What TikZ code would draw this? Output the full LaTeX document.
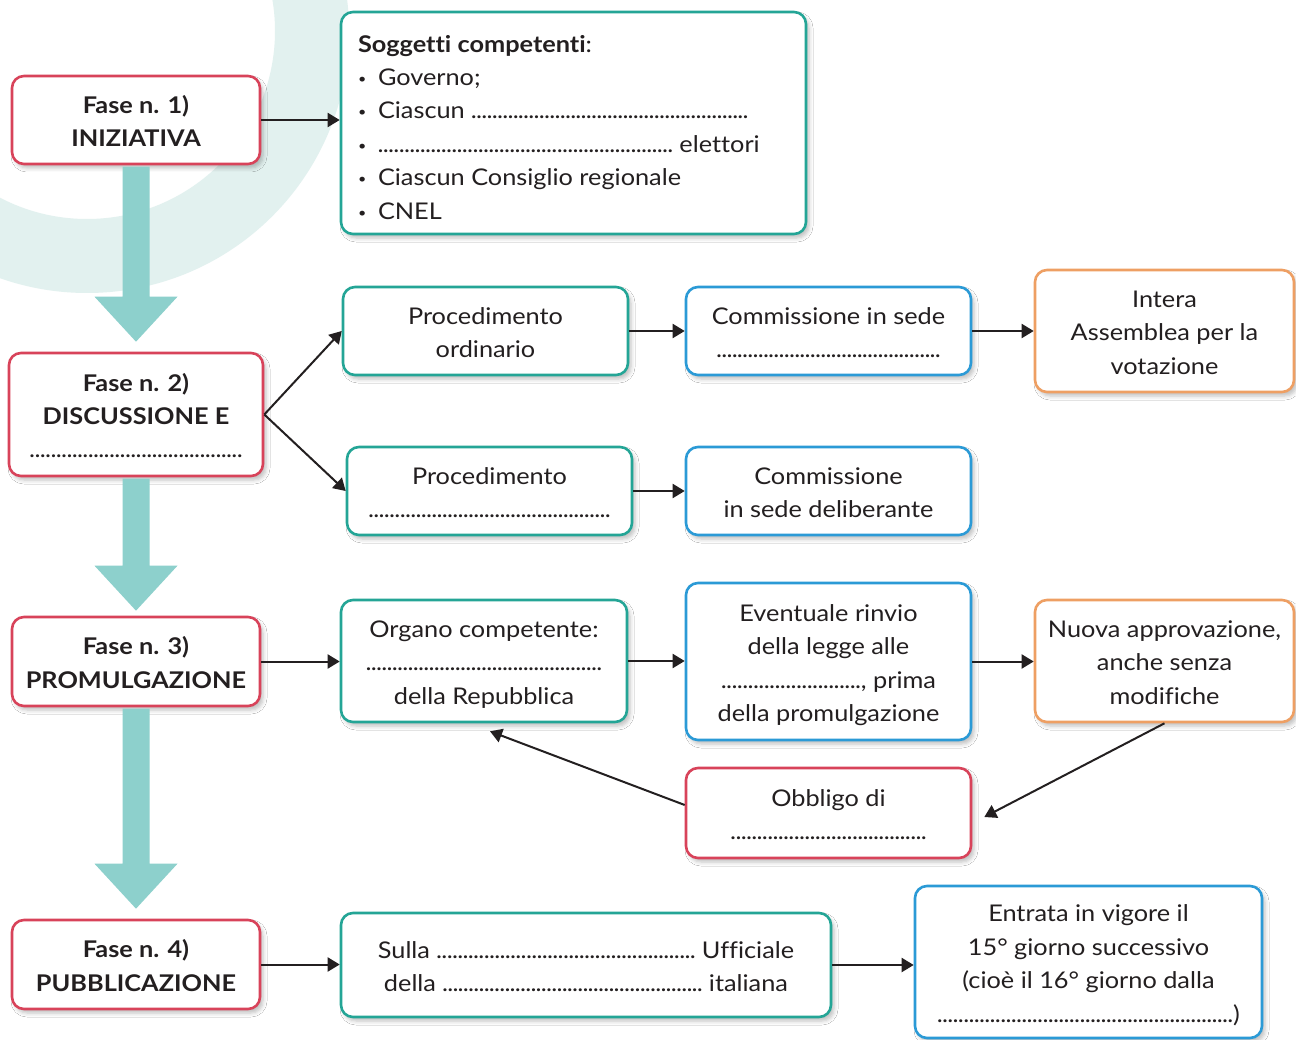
\documentclass[tikz,border=0pt]{standalone}
\usepackage{fontspec}
\setmainfont{Lato}[FakeStretch=1.1, Ligatures=NoCommon]
\usetikzlibrary{arrows.meta,shadows.blur,calc}

\definecolor{ink}{HTML}{231F20}
\definecolor{cred}{HTML}{D8435A}
\definecolor{cteal}{HTML}{24A596}
\definecolor{cblue}{HTML}{2B9AD6}
\definecolor{corange}{HTML}{EE9F63}
\definecolor{phaseflow}{HTML}{8DD0CC}
\definecolor{ringtint}{HTML}{E2F1EF}

% dotted blank of a given width (in pt)
\newcommand\blank[1]{\makebox[#1pt]{\xleaders\hbox to 5.2pt{\hss.\hss}\hfill}}
% small bullet for list items
\newcommand\itm{\makebox[20pt][l]{\raisebox{2pt}{\fontsize{13}{13}\selectfont\textbullet}}}
% centred lines of a card, set slightly low for optical centring
\newcommand\cardtext[1]{\raisebox{-3.3pt}[\height][\depth]{\begin{tabular}{@{}c@{}}#1\end{tabular}}}

\tikzset{
  card/.style={rectangle, rounded corners=12pt, line width=2.6pt, fill=white,
    inner sep=0pt, text=ink,
    font=\fontsize{23}{33.4}\selectfont,
    blur shadow={shadow xshift=3pt, shadow yshift=-4pt,
      shadow blur radius=4pt, shadow opacity=25}},
  redcard/.style={card, draw=cred},
  tealcard/.style={card, draw=cteal},
  bluecard/.style={card, draw=cblue},
  orangecard/.style={card, draw=corange},
  phasecard/.style={redcard, font=\fontsize{23}{33.4}\selectfont\bfseries},
  link/.style={line width=2pt, draw=ink, -{Triangle[length=12pt,width=14pt]}},
}

% wide teal arrow between two phase boxes (#3: gap above the lower box)
\newcommand\phasearrow[3]{%
  \fill[phaseflow] let \p1=(#1.south), \p2=(#2.north) in
    (\x1-13.5pt,\y1-1.3pt) -- (\x1+13.5pt,\y1-1.3pt) -- (\x1+13.5pt,\y2+#3pt+45pt)
    -- (\x1+41.5pt,\y2+#3pt+45pt) -- (\x1,\y2+#3pt)
    -- (\x1-41.5pt,\y2+#3pt+45pt) -- (\x1-13.5pt,\y2+#3pt+45pt) -- cycle;}

\begin{document}
\begin{tikzpicture}[x=1pt,y=-1pt]
  \useasboundingbox (0,0) rectangle (1296,1040);
  \begin{scope}
    \clip (0,0) rectangle (1296,1040);
    \fill[white] (0,0) rectangle (1296,1040);
    % decorative ring behind the first phase
    \fill[ringtint, even odd rule] (87,31) circle (262pt) (87,31) circle (188pt);
  \end{scope}

  % phase boxes
  \node[phasecard, minimum width=248pt, minimum height=88pt] (f1) at (136,120) {\cardtext{Fase n. 1)\\INIZIATIVA}};
  \node[phasecard, minimum width=254pt, minimum height=123pt] (f2) at (136,414.5) {\cardtext{Fase n. 2)\\DISCUSSIONE E\\{\mdseries\blank{213}}}};
  \node[phasecard, minimum width=248pt, minimum height=89pt] (f3) at (136,661.5) {\cardtext{Fase n. 3)\\PROMULGAZIONE}};
  \node[phasecard, minimum width=248pt, minimum height=89pt] (f4) at (136,964.5) {\cardtext{Fase n. 4)\\PUBBLICAZIONE}};

  % wide arrows between phases
  \phasearrow{f1}{f2}{10}
  \phasearrow{f2}{f3}{5}
  \phasearrow{f3}{f4}{10}

  % phase 1
  \node[tealcard, minimum width=465pt, minimum height=222pt] (sog) at (573.5,123)
    {\raisebox{-6pt}[\height][\depth]{\begin{tabular}{@{}p{431pt}@{}}
      \textbf{Soggetti competenti}:\\
      \itm Governo;\\
      \itm Ciascun \blank{277}\\
      \itm\blank{295} elettori\\
      \itm Ciascun Consiglio regionale\\
      \itm CNEL
    \end{tabular}}};

  % phase 2
  \node[tealcard, minimum width=285pt, minimum height=88pt] (po) at (485.5,331) {\cardtext{Procedimento\\ordinario}};
  \node[bluecard, minimum width=285pt, minimum height=88pt] (cs) at (828.5,331) {\cardtext{Commissione in sede\\\blank{224}}};
  \node[orangecard, minimum width=259pt, minimum height=122pt] (ia) at (1164.5,331) {\cardtext{Intera\\Assemblea per la\\votazione}};
  \node[tealcard, minimum width=285pt, minimum height=88pt] (pd) at (489.5,491) {\cardtext{Procedimento\\\blank{242}}};
  \node[bluecard, minimum width=285pt, minimum height=88pt] (cd) at (828.5,491) {\cardtext{Commissione\\in sede deliberante}};

  % phase 3
  \node[tealcard, minimum width=286pt, minimum height=122pt] (oc) at (484,661) {\cardtext{Organo competente:\\\blank{236}\\della Repubblica}};
  \node[bluecard, minimum width=285pt, minimum height=157pt] (er) at (828.5,661.5) {\cardtext{Eventuale rinvio\\della legge alle\\\blank{140}, prima\\della promulgazione}};
  \node[orangecard, minimum width=259pt, minimum height=122pt] (na) at (1164.5,661) {\cardtext{Nuova approvazione,\\anche senza\\modifiche}};
  \node[redcard, minimum width=285pt, minimum height=90pt] (ob) at (828.5,813) {\cardtext{Obbligo di\\\blank{196}}};

  % phase 4
  \node[tealcard, minimum width=490pt, minimum height=104pt] (su) at (586,965) {\cardtext{Sulla \blank{259} Ufficiale\\della \blank{260} italiana}};
  \node[bluecard, minimum width=347pt, minimum height=152pt] (en) at (1088.5,962) {\raisebox{-3.5pt}{\cardtext{Entrata in vigore il\\15° giorno successivo\\(cioè il 16° giorno dalla\\\blank{296})}}};

  % connectors
  \draw[link] (f1.east) -- (sog.west |- f1.east);
  \draw[link] (f2.east) -- (po.west);
  \draw[link] (f2.east) -- (pd.west);
  \draw[link] (po.east) -- (cs.west);
  \draw[link] (cs.east) -- (ia.west |- cs.east);
  \draw[link] (pd.east) -- (cd.west);
  \draw[link] (f3.east) -- (oc.west |- f3.east);
  \draw[link] (oc.east) -- (er.west |- oc.east);
  \draw[link] (er.east) -- (na.west |- er.east);
  \draw[link] (na.south) -- ([xshift=12pt,yshift=-4pt]ob.east);
  \draw[link] ([yshift=8pt]ob.west) -- ([xshift=6pt,yshift=-8pt]oc.south);
  \draw[link] (f4.east) -- (su.west |- f4.east);
  \draw[link] (su.east) -- (en.west |- su.east);
\end{tikzpicture}
\end{document}
